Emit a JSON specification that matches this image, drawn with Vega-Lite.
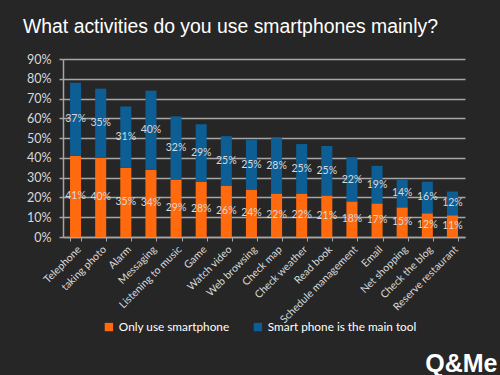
{
  "$schema": "https://vega.github.io/schema/vega-lite/v6.json",
  "autosize": "none",
  "width": 402,
  "height": 178,
  "padding": {"left": 63, "top": 59, "right": 35, "bottom": 138},
  "background": "#262626",
  "title": {
    "text": "What activities do you use smartphones mainly?",
    "anchor": "start",
    "frame": "group",
    "dx": -40,
    "offset": 16,
    "font": "Liberation Sans",
    "fontSize": 19.4,
    "fontWeight": "normal",
    "color": "#ffffff"
  },
  "config": {
    "view": {"stroke": null},
    "font": "Lato",
    "axisY": {
      "title": null,
      "labelFontSize": 12.5,
      "labelColor": "#d9d9d9",
      "labelPadding": 8,
      "domainColor": "#a6a6a6",
      "domainWidth": 1.5,
      "tickColor": "#a6a6a6",
      "tickSize": 4,
      "tickWidth": 1.5,
      "gridColor": "#a6a6a6",
      "gridWidth": 1.5
    }
  },
  "data": {
    "values": [
      {"activity": "Telephone", "series": "Only use smartphone", "value": 41, "ord": 0},
      {"activity": "Telephone", "series": "Smart phone is the main tool", "value": 37, "ord": 1},
      {"activity": "taking photo", "series": "Only use smartphone", "value": 40, "ord": 0},
      {"activity": "taking photo", "series": "Smart phone is the main tool", "value": 35, "ord": 1},
      {"activity": "Alarm", "series": "Only use smartphone", "value": 35, "ord": 0},
      {"activity": "Alarm", "series": "Smart phone is the main tool", "value": 31, "ord": 1},
      {"activity": "Messaging", "series": "Only use smartphone", "value": 34, "ord": 0},
      {"activity": "Messaging", "series": "Smart phone is the main tool", "value": 40, "ord": 1},
      {"activity": "Listening to music", "series": "Only use smartphone", "value": 29, "ord": 0},
      {"activity": "Listening to music", "series": "Smart phone is the main tool", "value": 32, "ord": 1},
      {"activity": "Game", "series": "Only use smartphone", "value": 28, "ord": 0},
      {"activity": "Game", "series": "Smart phone is the main tool", "value": 29, "ord": 1},
      {"activity": "Watch video", "series": "Only use smartphone", "value": 26, "ord": 0},
      {"activity": "Watch video", "series": "Smart phone is the main tool", "value": 25, "ord": 1},
      {"activity": "Web browsing", "series": "Only use smartphone", "value": 24, "ord": 0},
      {"activity": "Web browsing", "series": "Smart phone is the main tool", "value": 25, "ord": 1},
      {"activity": "Check map", "series": "Only use smartphone", "value": 22, "ord": 0},
      {"activity": "Check map", "series": "Smart phone is the main tool", "value": 28, "ord": 1},
      {"activity": "Check weather", "series": "Only use smartphone", "value": 22, "ord": 0},
      {"activity": "Check weather", "series": "Smart phone is the main tool", "value": 25, "ord": 1},
      {"activity": "Read book", "series": "Only use smartphone", "value": 21, "ord": 0},
      {"activity": "Read book", "series": "Smart phone is the main tool", "value": 25, "ord": 1},
      {"activity": "Schedule management", "series": "Only use smartphone", "value": 18, "ord": 0},
      {"activity": "Schedule management", "series": "Smart phone is the main tool", "value": 22, "ord": 1},
      {"activity": "Email", "series": "Only use smartphone", "value": 17, "ord": 0},
      {"activity": "Email", "series": "Smart phone is the main tool", "value": 19, "ord": 1},
      {"activity": "Net shopping", "series": "Only use smartphone", "value": 15, "ord": 0},
      {"activity": "Net shopping", "series": "Smart phone is the main tool", "value": 14, "ord": 1},
      {"activity": "Check the blog", "series": "Only use smartphone", "value": 12, "ord": 0},
      {"activity": "Check the blog", "series": "Smart phone is the main tool", "value": 16, "ord": 1},
      {"activity": "Reserve restaurant", "series": "Only use smartphone", "value": 11, "ord": 0},
      {"activity": "Reserve restaurant", "series": "Smart phone is the main tool", "value": 12, "ord": 1}
    ]
  },
  "transform": [
    {"stack": "value", "groupby": ["activity"], "sort": [{"field": "ord"}], "as": ["v0", "v1"]},
    {"calculate": "(datum.v0 + datum.v1) / 2", "as": "mid"},
    {"calculate": "datum.value + '%'", "as": "label"}
  ],
  "encoding": {
    "x": {
      "field": "activity",
      "type": "nominal",
      "sort": null,
      "scale": {"paddingInner": 0.56, "paddingOuter": 0.28},
      "axis": {
        "title": "Q&Me",
        "titleFont": "Liberation Sans",
        "titleFontSize": 25,
        "titleFontWeight": "bold",
        "titleColor": "#ffffff",
        "titleAnchor": "end",
        "titleAlign": "right",
        "titleBaseline": "alphabetic",
        "titleX": 434,
        "titleY": 134,
        "labelAngle": -45,
        "labelAlign": "right",
        "labelBaseline": "top",
        "labelFontSize": 10.5,
        "labelColor": "#d9d9d9",
        "labelPadding": 3,
        "domainColor": "#a6a6a6",
        "domainWidth": 1.5,
        "tickColor": "#a6a6a6",
        "tickSize": 4,
        "tickBand": "extent",
        "grid": false
      }
    }
  },
  "layer": [
    {
      "mark": {"type": "bar"},
      "encoding": {
        "y": {
          "field": "v0",
          "type": "quantitative",
          "scale": {"domain": [0, 90]},
          "title": null,
          "axis": {
            "values": [0, 10, 20, 30, 40, 50, 60, 70, 80, 90],
            "labelExpr": "datum.value + '%'"
          }
        },
        "y2": {"field": "v1"},
        "color": {
          "field": "series",
          "type": "nominal",
          "scale": {
            "domain": ["Only use smartphone", "Smart phone is the main tool"],
            "range": ["#ff6a0e", "#0d5e94"]
          },
          "legend": {
            "title": null,
            "orient": "none",
            "direction": "horizontal",
            "legendX": 40,
            "legendY": 262,
            "symbolType": "square",
            "symbolSize": 70,
            "symbolStrokeWidth": 0,
            "labelColor": "#ffffff",
            "labelFontSize": 11.8,
            "labelLimit": 300,
            "labelOffset": 4,
            "columnPadding": 22
          }
        }
      }
    },
    {
      "mark": {"type": "text", "fontSize": 10.5, "color": "#d9d9d9"},
      "encoding": {
        "y": {
          "field": "mid",
          "type": "quantitative",
          "scale": {"domain": [0, 90]},
          "title": null,
          "axis": {
            "values": [0, 10, 20, 30, 40, 50, 60, 70, 80, 90],
            "labelExpr": "datum.value + '%'"
          }
        },
        "text": {"field": "label", "type": "nominal"}
      }
    }
  ]
}
